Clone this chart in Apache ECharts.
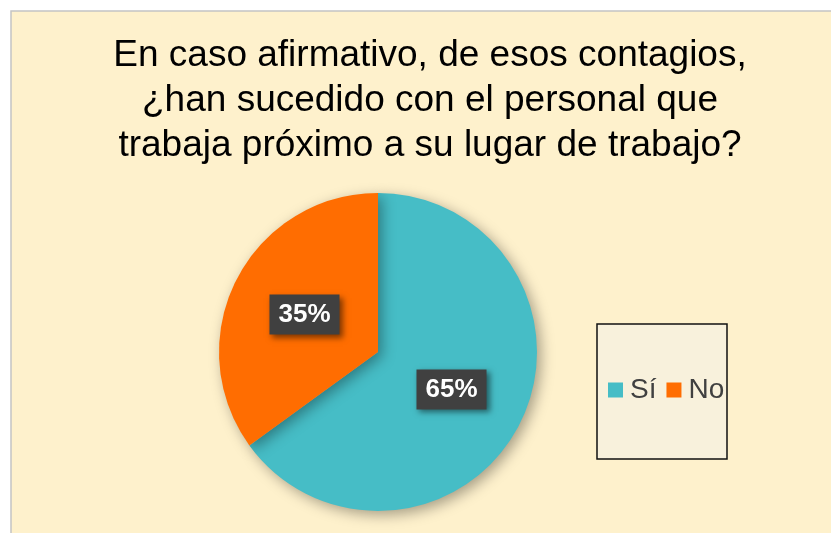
<!DOCTYPE html>
<html>
<head>
<meta charset="utf-8">
<script src="https://cdn.jsdelivr.net/npm/echarts@6/dist/echarts.min.js"></script>
<style>
  html, body { margin: 0; padding: 0; background: #fff; }
  #main { width: 831px; height: 533px; }
</style>
</head>
<body>
<div id="main"></div>
<script>
var titulo = 'En caso afirmativo, de esos contagios,\n¿han sucedido con el personal que\ntrabaja próximo a su lugar de trabajo?';
var categorias = ['Sí', 'No'];
var valores = [65, 35];
var colores = ['#46BDC6', '#FF6D01'];

var myChart = echarts.init(document.getElementById('main'));

var datos = categorias.map(function (c, i) {
	return { name: c, value: valores[i] };
});

var option = {
	backgroundColor: '#ffffff',
	color: colores,
	graphic: [
		{
			type: 'rect',
			z: -10,
			shape: { x: 11, y: 11, width: 840, height: 540 },
			style: { fill: '#FEF1CC', stroke: '#C4C4C4', lineWidth: 1.5 }
		},
		{
			type: 'rect',
			z: -5,
			shape: { x: 597, y: 324, width: 130, height: 135 },
			style: { fill: '#F8F1DC', stroke: '#111111', lineWidth: 1.5 }
		}
	],
	title: {
		text: titulo,
		left: 430,
		top: 33,
		padding: 0,
		textAlign: 'center',
		textStyle: {
			fontFamily: 'Liberation Sans, Arial, sans-serif',
			fontSize: 37,
			fontWeight: 'normal',
			lineHeight: 45,
			color: '#000000'
		}
	},
	legend: {
		left: 608,
		top: 376,
		padding: 0,
		itemWidth: 15,
		itemHeight: 15,
		itemGap: 10,
		icon: 'rect',
		data: categorias,
		textStyle: {
			fontFamily: 'Liberation Sans, Arial, sans-serif',
			fontSize: 28,
			color: '#404040',
			padding: [0, 0, 0, 2]
		}
	},
	series: [
		{
			name: 'Respuesta',
			type: 'pie',
			center: [378, 352],
			radius: 159,
			startAngle: 90,
			clockwise: true,
			silent: true,
			itemStyle: {
				shadowBlur: 14,
				shadowColor: 'rgba(0,0,0,0.35)',
				shadowOffsetX: 4,
				shadowOffsetY: 4
			},
			label: {
				show: true,
				position: 'inside',
				formatter: '{c}%',
				fontFamily: 'Liberation Sans, Arial, sans-serif',
				fontSize: 26,
				fontWeight: 'bold',
				color: '#ffffff',
				backgroundColor: '#404040',
				padding: [7, 9, 7, 9],
				shadowBlur: 6,
				shadowColor: 'rgba(0,0,0,0.5)',
				shadowOffsetX: 3,
				shadowOffsetY: 3
			},
			labelLine: { show: false },
			data: datos
		}
	]
};

myChart.setOption(option);
</script>
</body>
</html>
